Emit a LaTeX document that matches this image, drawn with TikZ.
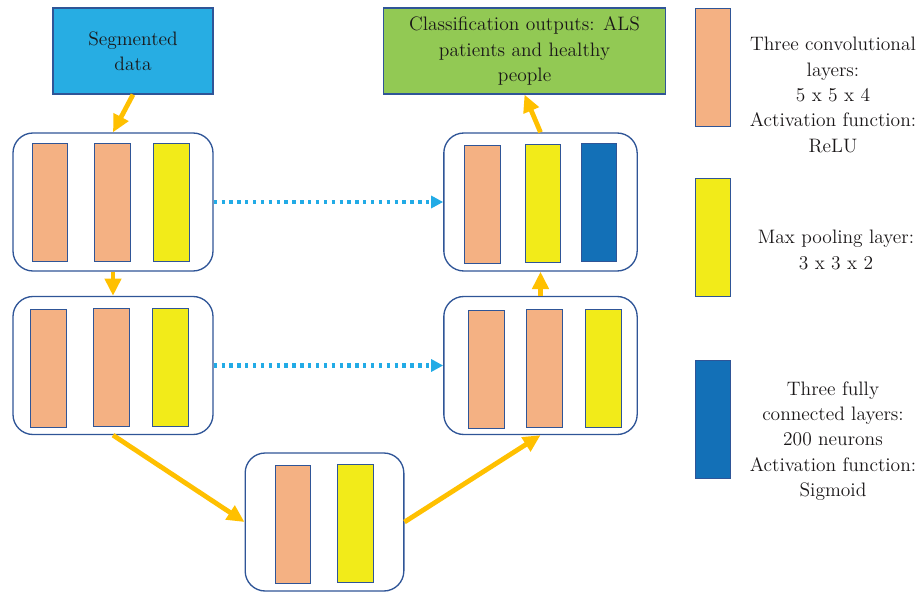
\documentclass[tikz,border=0pt]{standalone}
\usepackage{tikz}
\usetikzlibrary{arrows.meta}
\usetikzlibrary{positioning}

\definecolor{segblue}{HTML}{27ADE3}
\definecolor{outgreen}{HTML}{92C954}
\definecolor{convorange}{HTML}{F4B183}
\definecolor{poolyellow}{HTML}{F2EB19}
\definecolor{fcblue}{HTML}{1370B7}
\definecolor{edgeblue}{HTML}{2F5597}
\definecolor{flowgold}{HTML}{FFC000}
\definecolor{skipblue}{HTML}{22ABE6}
\definecolor{inkgray}{HTML}{1A1718}

\begin{document}
\begin{tikzpicture}[x=0.75pt, y=-0.75pt,
    every node/.style={font=\fontsize{14.6}{19}\selectfont, text=inkgray},
    iobox/.style={draw=edgeblue, line width=0.9pt, fill=#1, minimum height=64.5pt, inner sep=0pt, align=center},
    layerbar/.style={draw=edgeblue, line width=0.7pt, fill=#1, minimum width=26.5pt, minimum height=88.5pt, inner sep=0pt},
    block/.style={draw=edgeblue, line width=1pt, rounded corners=15pt, minimum height=103.5pt, inner sep=0pt},
    flow/.style={draw=flowgold, line width=3.6pt, -{Triangle[length=13pt,width=12pt]}},
    skip/.style={draw=skipblue, line width=3.2pt, dash pattern=on 2.5pt off 3.4pt, -{Triangle[length=9pt,width=9pt]}},
    legend/.style={align=center}
  ]

  \useasboundingbox (0,0) rectangle (921,592);

  % input and output
  \node[iobox=segblue, minimum width=120pt] (seg) at (133,51) {Segmented\\data};
  \node[iobox=outgreen, minimum width=212pt] (out) at (524.5,51) {Classification outputs: ALS\\patients and healthy\\people};

  % blocks
  \node[block, minimum width=150pt] (enc1) at (113,202) {};
  \node[block, minimum width=150pt] (enc2) at (113,365.5) {};
  \node[block, minimum width=119pt] (bott) at (324.5,522) {};
  \node[block, minimum width=145pt] (dec2) at (540.5,365.5) {};
  \node[block, minimum width=145pt] (dec1) at (540.5,202) {};

  % layers inside the blocks
  \foreach \x/\y/\c [count=\i] in {50/202/convorange, 112.5/202/convorange, 171.5/202/poolyellow,
      48.5/368/convorange, 111.5/367/convorange, 170.5/367/poolyellow,
      293/524/convorange, 355.5/523/poolyellow,
      486.5/369.5/convorange, 544.5/368.5/convorange, 603.5/368.5/poolyellow,
      482.5/204/convorange, 543/203/poolyellow, 599/202/fcblue} {
    \node[layerbar=\c] (layer\i) at (\x,\y) {};
  }

  % legend
  \node[layerbar=convorange] (keyconv) at (713,67) {};
  \node[layerbar=poolyellow] (keypool) at (713,237.5) {};
  \node[layerbar=fcblue] (keyfc) at (713,419.5) {};

  \node[legend] (keyconvtxt) at (833,95) {Three convolutional\\layers:\\5 x 5 x 4\\Activation function:\\ReLU};
  \node[legend] (keypooltxt) at (836,250) {Max pooling layer:\\3 x 3 x 2};
  \node[legend] (keyfctxt) at (833,441) {Three fully\\connected layers:\\200 neurons\\Activation function:\\Sigmoid};

  % connections
  \draw[flow] (seg.south) -- (enc1.north);
  \draw[flow] (enc1.south) -- (enc2.north);
  \draw[flow] (enc2.south) -- (bott.west);
  \draw[flow] (bott.east) -- (dec2.south);
  \draw[flow] (dec2.north) -- (dec1.south);
  \draw[flow] (dec1.north) -- (out.south);

  \draw[skip] (enc1.east) -- (dec1.west);
  \draw[skip] (enc2.east) -- (dec2.west);

\end{tikzpicture}
\end{document}
